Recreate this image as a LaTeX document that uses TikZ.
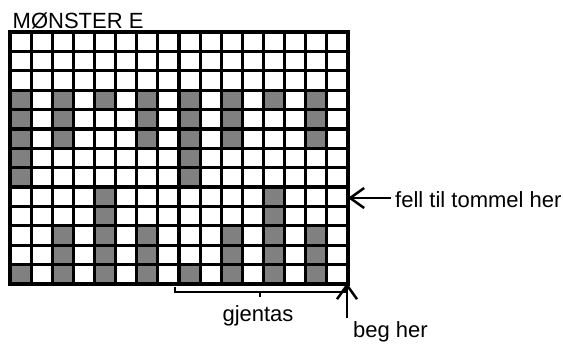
\documentclass[tikz,border=0pt]{standalone}
\usepackage{fontspec}
\setmainfont{Liberation Sans}
\usetikzlibrary{arrows.meta}
\definecolor{cellgray}{HTML}{808080}
\tikzset{
  gridline/.style={line width=3.2bp, black},
  cellfill/.style={fill=cellgray},
  lbl/.style={inner sep=0pt, font=\fontsize{22bp}{26bp}\selectfont},
  bracketline/.style={line width=1.8bp, black},
  pointer/.style={line width=2.5bp, black, -{Straight Barb[length=14bp,width=20bp,line width=2.5bp]}}
}
\begin{document}
\begin{tikzpicture}[x=1bp,y=-1bp]
\useasboundingbox (0,0) rectangle (563,343);
\def\gx{10}\def\gy{32}\def\cw{21.125}\def\ch{19.385}
% shaded cells: row/col (1-based)
\foreach \r/\cols in {4/{1,3,5,7,9,11,13,15},5/{1,3,7,9,11,15},6/{1,3,7,9,11,15},7/{1,9},8/{1,9},9/{5,13},10/{5,13},11/{3,5,7,11,13,15},12/{3,5,7,11,13,15},13/{1,3,5,7,9,11,13,15}}{
  \foreach \c in \cols {
    \fill[cellfill] ({\gx+(\c-1)*\cw},{\gy+(\r-1)*\ch}) rectangle ++(\cw,\ch);
  }
}
% grid lines
\foreach \i in {0,...,16} {
  \draw[gridline] ({\gx+\i*\cw},{\gy-1.6}) -- ({\gx+\i*\cw},{\gy+13*\ch+1.6});
}
\foreach \j in {0,...,13} {
  \draw[gridline] ({\gx-1.6},{\gy+\j*\ch}) -- ({\gx+16*\cw+1.6},{\gy+\j*\ch});
}
% title
\node[lbl, anchor=base west] (title) at (12.5,28) {MØNSTER E};
% bracket
\coordinate (bl) at (175,287);
\coordinate (br) at (345,287);
\coordinate (bm) at (260,297);
\draw[bracketline] (bl) -- (175,292) -- (345,292) -- (br);
\draw[bracketline] (260,292) -- (bm);
\node[lbl, anchor=base] (gjentas) at (258,321) {gjentas};
% labels and arrows
\node[lbl, anchor=base west] (fell) at (395,207) {fell til tommel her};
\coordinate (fellTip) at (348,198);
\draw[pointer] (fell.west |- fellTip) ++(-4,0) -- (fellTip);
\node[lbl, anchor=base west] (beg) at (353,337.5) {beg her};
\coordinate (begTail) at (347,318);
\coordinate (begTip) at (347,283);
\draw[pointer] (begTail) -- (begTip);
\end{tikzpicture}
\end{document}
